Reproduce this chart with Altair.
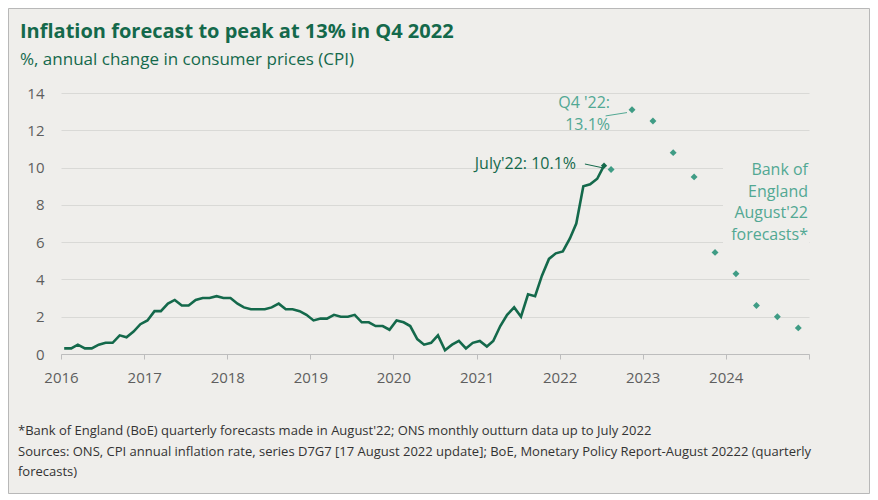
import altair as alt
import pandas as pd

# ---------------- data ----------------
years = [2016, 2017, 2018, 2019, 2020, 2021, 2022]
cpi_2016 = [0.3, 0.3, 0.5, 0.3, 0.3, 0.5, 0.6, 0.6, 1.0, 0.9, 1.2, 1.6]
cpi_2017 = [1.8, 2.3, 2.3, 2.7, 2.9, 2.6, 2.6, 2.9, 3.0, 3.0, 3.1, 3.0]
cpi_2018 = [3.0, 2.7, 2.5, 2.4, 2.4, 2.4, 2.5, 2.7, 2.4, 2.4, 2.3, 2.1]
cpi_2019 = [1.8, 1.9, 1.9, 2.1, 2.0, 2.0, 2.1, 1.7, 1.7, 1.5, 1.5, 1.3]
cpi_2020 = [1.8, 1.7, 1.5, 0.8, 0.5, 0.6, 1.0, 0.2, 0.5, 0.7, 0.3, 0.6]
cpi_2021 = [0.7, 0.4, 0.7, 1.5, 2.1, 2.5, 2.0, 3.2, 3.1, 4.2, 5.1, 5.4]
cpi_2022 = [5.5, 6.2, 7.0, 9.0, 9.1, 9.4, 10.1]

forecast_dates = ["2022-08-15", "2022-11-15", "2023-02-15", "2023-05-15", "2023-08-15",
                  "2023-11-15", "2024-02-15", "2024-05-15", "2024-08-15", "2024-11-15"]
forecast_vals = [9.9, 13.1, 12.5, 10.8, 9.5, 5.45, 4.3, 2.6, 2.0, 1.4]

x_tick_years = [2016, 2017, 2018, 2019, 2020, 2021, 2022, 2023, 2024, 2025]
y_ticks = [0, 2, 4, 6, 8, 10, 12, 14]

title_text = "Inflation forecast to peak at 13% in Q4 2022"
subtitle_text = "%, annual change in consumer prices (CPI)"
footer_lines = [
    "*Bank of England (BoE) quarterly forecasts made in August'22; ONS monthly outturn data up to July 2022",
    "Sources: ONS, CPI annual inflation rate, series D7G7 [17 August 2022 update]; BoE, Monetary Policy Report-August 20222 (quarterly",
    "forecasts)",
]

# ---------------- styles ----------------
BG = "#efeeeb"
DARK = "#14694b"
TEAL = "#3f9c85"
TEAL_TXT = "#52a893"
GRID = "#d9d9d6"
LABEL = "#5e5e5e"
FONT = "Open Sans"

# ---------------- tables ----------------
all_vals = [cpi_2016, cpi_2017, cpi_2018, cpi_2019, cpi_2020, cpi_2021, cpi_2022]
rows = []
for yr, vals in zip(years, all_vals):
    for m, v in enumerate(vals, start=1):
        rows.append({"date": f"{yr}-{m:02d}-15", "cpi": v})
monthly = pd.DataFrame(rows)
last = monthly.tail(1)
fc = pd.DataFrame({"date": forecast_dates, "cpi": forecast_vals})

leaders = pd.DataFrame({
    "date": ["2022-07-22", "2022-04-22"],
    "date2": ["2022-10-24", "2022-07-08"],
    "cpi": [12.77, 10.19],
    "cpi2": [12.95, 9.99],
    "kind": ["fc", "actual"],
})
boe_box = pd.DataFrame({"date": ["2023-12-20"], "date2": ["2025-01-01"], "cpi": [5.8], "cpi2": [10.6]})
one = pd.DataFrame({"k": [0]})

x_scale = alt.Scale(domain=[alt.DateTime(year=2016, month=1, date=1),
                            alt.DateTime(year=2025, month=1, date=1)])
y_scale = alt.Scale(domain=[0, 14], nice=False)

x_axis = alt.Axis(
    values=[alt.DateTime(year=y, month=1, date=1) for y in x_tick_years],
    labelExpr="year(datum.value) >= 2025 ? '' : timeFormat(datum.value, '%Y')",
    grid=False, tickSize=5, labelPadding=11, domainColor="#bdbdbd", tickColor="#bdbdbd",
    labelColor=LABEL, labelFontSize=15, labelFont=FONT, title=None, labelFlush=False,
    labelOverlap=False,
)
y_axis = alt.Axis(
    values=y_ticks, grid=True, gridColor=GRID, ticks=False, domain=False, labelPadding=17,
    labelColor=LABEL, labelFontSize=15, labelFont=FONT, title=None, labelOverlap=False,
)

X = alt.X("date:T", scale=x_scale, axis=x_axis)
Y = alt.Y("cpi:Q", scale=y_scale, axis=y_axis)

border = alt.Chart(one).mark_rect(fill=None, stroke="#b8b8b8", strokeWidth=1).encode(
    x=alt.value(-52.5), x2=alt.value(808.5), y=alt.value(-84.5), y2=alt.value(400.5)
)

line = alt.Chart(monthly).mark_line(color=DARK, strokeWidth=2.6).encode(x=X, y=Y)

box = alt.Chart(boe_box).mark_rect(fill=BG).encode(x=X, x2="date2:T", y=Y, y2="cpi2:Q")

fc_pts = alt.Chart(fc).mark_point(shape="diamond", filled=True, color=TEAL, size=48, opacity=1).encode(
    x=X, y=Y
)
last_pt = alt.Chart(last).mark_point(shape="diamond", filled=True, color=DARK, size=40, opacity=1).encode(
    x=X, y=Y
)

lead_fc = alt.Chart(leaders[leaders.kind == "fc"]).mark_rule(color=TEAL_TXT, strokeWidth=1).encode(
    x=X, x2="date2:T", y=Y, y2="cpi2:Q"
)
lead_act = alt.Chart(leaders[leaders.kind == "actual"]).mark_rule(color=DARK, strokeWidth=1).encode(
    x=X, x2="date2:T", y=Y, y2="cpi2:Q"
)

q4_anchor = fc.iloc[[1]]
q4_text = alt.Chart(q4_anchor).mark_text(
    text=["Q4 '22:", "13.1%"], align="right", baseline="alphabetic", dx=-22, dy=-2,
    lineHeight=22, fontSize=16, font=FONT, color=TEAL_TXT,
).encode(x=X, y=Y)

jul_text = alt.Chart(last).mark_text(
    text="July'22: 10.1%", align="right", baseline="alphabetic", dx=-28, dy=3,
    fontSize=16, font=FONT, color=DARK,
).encode(x=X, y=Y)

boe_anchor = pd.DataFrame({"date": ["2025-01-01"], "cpi": [9.6]})
boe_text = alt.Chart(boe_anchor).mark_text(
    text=["Bank of", "England", "August'22", "forecasts*"], align="right", baseline="alphabetic",
    dx=-1, lineHeight=21.7, fontSize=16, font=FONT, color=TEAL_TXT,
).encode(x=X, y=Y)

title = alt.Chart(one).mark_text(
    text=title_text, align="left", baseline="alphabetic", fontSize=20, fontWeight="bold",
    font=FONT, color=DARK,
).encode(x=alt.value(-41), y=alt.value(-55))

subtitle = alt.Chart(one).mark_text(
    text=subtitle_text, align="left", baseline="alphabetic", fontSize=17, font=FONT, color=DARK,
).encode(x=alt.value(-41), y=alt.value(-28))

footer = alt.Chart(one).mark_text(
    text=footer_lines, align="left", baseline="alphabetic", fontSize=13, lineHeight=20.5,
    font=FONT, color="#333333",
).encode(x=alt.value(-43), y=alt.value(342))

chart = alt.layer(
    border, line, box, fc_pts, last_pt, lead_fc, lead_act, q4_text, jul_text, boe_text,
    title, subtitle, footer,
).properties(
    width=748, height=261,
    padding={"left": 53, "top": 85, "right": 61, "bottom": 140},
    autosize=alt.AutoSizeParams(type="none"),
).configure(background=BG).configure_view(stroke=None)

chart.save("out.html", embed_options={"renderer": "svg", "actions": False})
